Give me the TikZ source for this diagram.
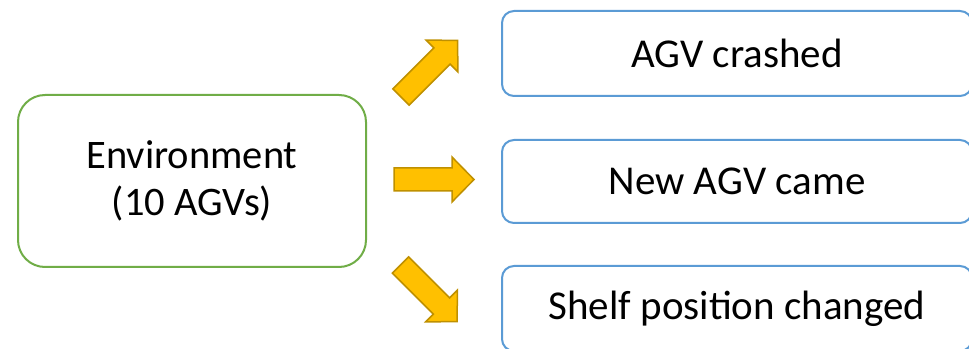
\documentclass[tikz,border=0pt]{standalone}
\usepackage{fontspec}
\setmainfont{Carlito}
\definecolor{envgreen}{HTML}{70AD47}
\definecolor{boxblue}{HTML}{5B9BD5}
\definecolor{arrfill}{HTML}{FFC000}
\definecolor{arrline}{HTML}{BF9000}
\tikzset{
  envbox/.style={draw=envgreen, line width=2pt, rounded corners=27pt, fill=white,
    minimum width=348pt, minimum height=172pt, align=center, inner sep=0pt,
    font=\fontsize{40.5}{47}\selectfont},
  eventbox/.style={draw=boxblue, line width=2pt, rounded corners=12pt, fill=white,
    minimum width=470pt, inner sep=0pt, font=\fontsize{41}{47}\selectfont},
  blockarrow/.pic={
    \draw[fill=arrfill, draw=arrline, line width=1.5pt, line join=miter]
      (0,-11.5) -- (58,-11.5) -- (58,-22.5) -- (80,0) -- (58,22.5) -- (58,11.5) -- (0,11.5) -- cycle;
  }
}
\begin{document}
\begin{tikzpicture}[x=1pt, y=1pt]
\useasboundingbox (0,0) rectangle (969,348);
\clip (0,0) rectangle (969,348);
\node[envbox] (env) at (192,167) {Environment\\(10 AGVs)};
\node[eventbox, minimum height=85pt] (crash) at (737,294.5) {AGV crashed};
\node[eventbox, minimum height=83pt] (newagv) at (737,166.5) {New AGV came};
\node[eventbox, minimum height=85pt] (shelf) at (737,39.5) {Shelf position changed};
\coordinate (t1) at (401,251);
\coordinate (t2) at (394,168.5);
\coordinate (t3) at (400.5,83);
\pic[rotate=45] at (t1) {blockarrow};
\pic at (t2) {blockarrow};
\pic[rotate=-45] at (t3) {blockarrow};
\end{tikzpicture}
\end{document}
